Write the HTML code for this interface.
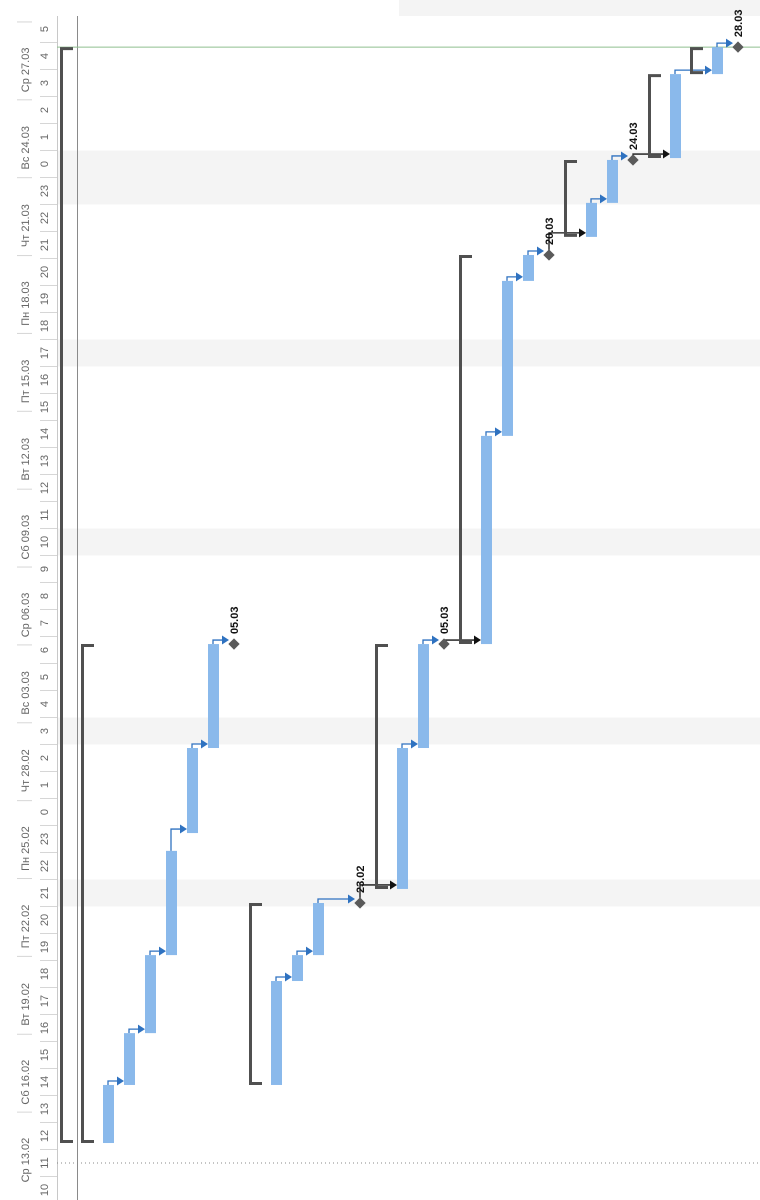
<!DOCTYPE html>
<html><head><meta charset="utf-8"><style>
html,body{margin:0;padding:0;background:#fff;}
svg{display:block;font-family:"Liberation Sans","Noto Sans CJK SC",sans-serif;}
</style></head><body>
<svg id="chart" width="760" height="1200" viewBox="0 0 760 1200" xmlns="http://www.w3.org/2000/svg">
<rect x="399" y="0" width="361" height="16" fill="#f4f4f4"/>
<g id="bands"></g>
<g id="axis"></g>
<g id="grid"></g>
<g id="links"></g>
<g id="tasks"></g>
</svg>
<script>
const minorLabels = ["10","11","12","13","14","15","16","17","18","19","20","21","22","23","0","1","2","3","4","5","6","7","8","9","10","11","12","13","14","15","16","17","18","19","20","21","22","23","0","1","2","3","4","5"];
const majorLabels = ["Ср 13.02","Сб 16.02","Вт 19.02","Пт 22.02","Пн 25.02","Чт 28.02","Вс 03.03","Ср 06.03","Сб 09.03","Вт 12.03","Пт 15.03","Пн 18.03","Чт 21.03","Вс 24.03","Ср 27.03"];
const shadedUnits = [11, 17, 24, 31, 37, 38];
const taskRow   = [-2, -1, 0, 1, 2, 3, 4, 5, 6, 7, 8, 9, 10, 12, 13, 14, 15, 16, 17, 18, 19, 20, 21, 22, 23, 24, 25, 26, 27, 28, 29, 30];
const taskType  = ["sum","sum","bar","bar","bar","bar","bar","bar","ms","sum","bar","bar","bar","ms","sum","bar","bar","ms","sum","bar","bar","bar","ms","sum","bar","bar","ms","sum","bar","sum","bar","ms"];
const taskStart = [1.74,1.74,1.74,3.89,5.81,8.70,13.22,16.37,20.22,3.89,3.89,7.74,8.70,10.63,11.15,11.15,16.37,20.22,20.22,20.22,27.93,33.67,34.63,35.30,35.30,36.56,38.15,38.22,38.22,41.33,41.33,42.33];
const taskEnd   = [42.33,20.22,3.89,5.81,8.70,12.56,16.37,20.22,20.22,10.63,7.74,8.70,10.63,10.63,20.22,16.37,20.22,20.22,34.63,27.93,33.67,34.63,34.63,38.15,36.56,38.15,38.15,41.33,41.33,42.33,42.33,42.33];
const msLabel   = {8:"05.03",13:"23.02",17:"05.03",22:"20.03",26:"24.03",31:"28.03"};
const linkFrom  = [2,3,4,5,6,7,10,11,12,15,16,19,20,21,24,25,28,30,13,17,22,26];
const linkTo    = [3,4,5,6,7,8,11,12,13,16,17,20,21,22,25,26,30,31,15,19,24,28];
const linkKind  = ["b","b","b","b","b","b","b","b","b","b","b","b","b","b","b","b","b","b","k","k","k","k"];
const statusT = 42.33, dottedT = 1.0;

const NS="http://www.w3.org/2000/svg";
const Y0=1190, U=27;
function yOf(t){return Y0-U*t;}
function xOf(r){return 108+21*r;}
function mk(tag,attrs,parent){const e=document.createElementNS(NS,tag);for(const k in attrs)e.setAttribute(k,attrs[k]);parent.appendChild(e);return e;}
const bands=document.getElementById('bands'),axis=document.getElementById('axis'),grid=document.getElementById('grid'),links=document.getElementById('links'),tasks=document.getElementById('tasks');

shadedUnits.forEach(i=>{
  const r=mk('rect',{x:57,y:yOf(i)-13.5,width:703,height:27,fill:'#f4f4f4'},bands);
  
  
});
minorLabels.forEach((l,i)=>{
  const y=yOf(i);
  const ln=mk('line',{x1:40,x2:57,y1:y+13.5,y2:y+13.5,stroke:'#d6d6d6','stroke-width':1},axis);
  
  
  const t=mk('text',{x:45,y:y,'font-size':11,fill:'#666','text-anchor':'middle','dominant-baseline':'central',transform:`rotate(-90 45 ${y})`},axis);
  t.textContent=l;
  
  
});
const MJ=77.87;
majorLabels.forEach((l,j)=>{
  const yb=1190-MJ*j;
  const ln=mk('line',{x1:17,x2:32,y1:yb-MJ,y2:yb-MJ,stroke:'#d6d6d6','stroke-width':1},axis);
  
  
  const yc=yb-MJ/2+9;
  const t=mk('text',{x:26,y:yc,'font-size':11,fill:'#666','text-anchor':'middle','dominant-baseline':'central',transform:`rotate(-90 26 ${yc})`},axis);
  t.textContent=l;
  
  
});
let e;
e=mk('line',{x1:57.5,x2:57.5,y1:16,y2:1200,stroke:'#c8c8c8','stroke-width':1},grid);


e=mk('line',{x1:77.5,x2:77.5,y1:16,y2:1200,stroke:'#8a8a8a','stroke-width':1},grid);


e=mk('line',{x1:57,x2:760,y1:yOf(dottedT),y2:yOf(dottedT),stroke:'#888','stroke-width':1,'stroke-dasharray':'1,3'},grid);


e=mk('line',{x1:57,x2:760,y1:yOf(statusT),y2:yOf(statusT),stroke:'#8fbf8f','stroke-width':1},grid);



taskRow.forEach((r,i)=>{
  const xc=xOf(r),ys=yOf(taskStart[i]),ye=yOf(taskEnd[i]),tp=taskType[i];
  if(tp==='bar'){
    const b=mk('rect',{x:xc-5,y:ye,width:11,height:ys-ye,fill:'#8ab9eb'},tasks);
    
    
  } else if(tp==='sum'){
    const g=mk('path',{d:`M${xc+7} ${ye+1.5} H${xc-4.5} V${ys-1.5} H${xc+7}`,fill:'none',stroke:'#505050','stroke-width':3},tasks);
    
    
  } else {
    const d=mk('rect',{x:xc-4,y:ys-4,width:8,height:8,fill:'#5a5a5a',transform:`rotate(45 ${xc} ${ys})`},tasks);
    
    
    const tx=xc+4,ty=ys-10;
    const t=mk('text',{x:tx,y:ty,'font-size':11,'font-weight':'bold',fill:'#111',transform:`rotate(-90 ${tx} ${ty})`},tasks);
    t.textContent=msLabel[i];
    
    
  }
});
linkFrom.forEach((f,k)=>{
  const to=linkTo[k];
  const x1=xOf(taskRow[f]);
  const yEnd=yOf(taskEnd[f]), ySt=yOf(taskStart[to]);
  const yl=Math.min(yEnd,ySt)-4;
  const x2=xOf(taskRow[to])-5;
  const col=linkKind[k]==='b'?'#2f72c0':'#111';
  const p=mk('path',{d:`M${x1} ${yEnd} V${yl} H${x2-6}`,fill:'none',stroke:col,'stroke-width':1.3},links);
  
  
  const a=mk('path',{d:`M${x2-7} ${yl-4.5} L${x2} ${yl} L${x2-7} ${yl+4.5} Z`,fill:col},links);
  
  
});
</script>
</body></html>
